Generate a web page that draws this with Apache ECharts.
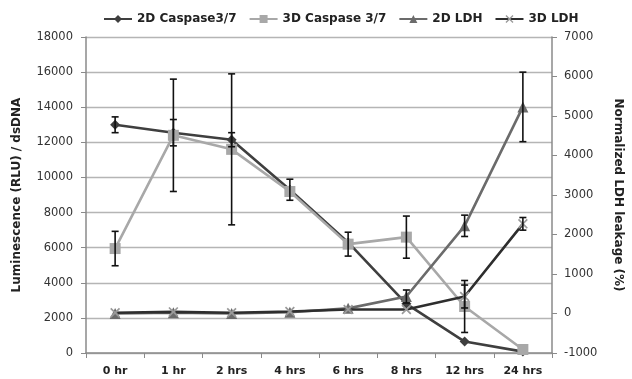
<!DOCTYPE html>
<html><head><meta charset="utf-8">
<script src="https://cdn.jsdelivr.net/npm/echarts@6/dist/echarts.min.js"></script>
<style>html,body{margin:0;padding:0;background:#fff}#c{width:632px;height:379px}</style>
</head><body><div id="c"></div>
<script>
const categories = ['0 hr','1 hr','2 hrs','4 hrs','6 hrs','8 hrs','12 hrs','24 hrs'];
const caspase2D = [13000, 12550, 12150, 9300, 6300, 2800, 650, 80];
const caspase2DErr = [450, 750, 400, 600, 0, 0, 0, 0];
const caspase3D = [5950, 12400, 11600, 9200, 6200, 6600, 2650, 200];
const caspase3DErr = [980, 3200, 4300, 0, 680, 1200, 1480, 0];
const ldh2D = [0, 20, 0, 30, 130, 430, 2220, 5230];
const ldh2DErr = [0, 0, 0, 0, 0, 165, 270, 880];
const ldh3D = [20, 40, 20, 50, 100, 100, 430, 2270];
const ldh3DErr = [0, 0, 0, 0, 0, 0, 290, 160];
const leftTicks = {min: 0, max: 18000, interval: 2000};
const rightTicks = {min: -1000, max: 7000, interval: 1000};

const FONT = "'DejaVu Sans', sans-serif";
const xMark = 'path://M0,1.2L1.2,0L5,3.8L8.8,0L10,1.2L6.2,5L10,8.8L8.8,10L5,6.2L1.2,10L0,8.8L3.8,5Z';

function errSeries(vals, errs, yIdx) {
  const data = [];
  vals.forEach((v, i) => { if (errs[i] > 0) data.push([i, v - errs[i], v + errs[i]]); });
  return {
    type: 'custom', yAxisIndex: yIdx, z: 5, silent: true,
    renderItem: function (params, api) {
      const x = api.value(0);
      const lo = api.coord([x, api.value(1)]);
      const hi = api.coord([x, api.value(2)]);
      const w = 3.5;
      const st = {stroke: '#111', lineWidth: 1.6};
      return {type: 'group', children: [
        {type: 'line', shape: {x1: lo[0], y1: lo[1], x2: hi[0], y2: hi[1]}, style: st},
        {type: 'line', shape: {x1: lo[0]-w, y1: lo[1], x2: lo[0]+w, y2: lo[1]}, style: st},
        {type: 'line', shape: {x1: hi[0]-w, y1: hi[1], x2: hi[0]+w, y2: hi[1]}, style: st}
      ]};
    },
    data: data
  };
}

const chart = echarts.init(document.getElementById('c'), null, {renderer: 'canvas'});
chart.setOption({
  animation: false,
  backgroundColor: '#fff',
  legend: {
    top: 8, left: 98, itemGap: 12, itemWidth: 28, itemHeight: 10,
    textStyle: {fontFamily: FONT, fontSize: 12, fontWeight: 'bold', color: '#222'},
    data: ['2D Caspase3/7', '3D Caspase 3/7', '2D LDH', '3D LDH']
  },
  grid: {left: 86, right: 74, top: 37, bottom: 26},
  xAxis: {
    type: 'category', data: categories, boundaryGap: true,
    axisLine: {lineStyle: {color: '#8a8a8a', width: 1.5}},
    axisTick: {show: true, inside: false, length: 5, lineStyle: {color: '#8a8a8a'}},
    axisLabel: {margin: 13, fontFamily: FONT, fontSize: 11, fontWeight: 'bold', color: '#222'}
  },
  yAxis: [
    {
      type: 'value', min: leftTicks.min, max: leftTicks.max, interval: leftTicks.interval,
      name: 'Luminescence (RLU) / dsDNA', nameLocation: 'middle', nameGap: 63, nameRotate: 90,
      nameTextStyle: {fontFamily: FONT, fontSize: 12, fontWeight: 'bold', color: '#222'},
      axisLine: {show: true, lineStyle: {color: '#8a8a8a', width: 1.5}},
      axisTick: {show: true, length: 5, lineStyle: {color: '#8a8a8a'}},
      axisLabel: {margin: 13, fontFamily: FONT, fontSize: 11.5, color: '#333', formatter: v => String(v)},
      splitLine: {show: true, lineStyle: {color: '#b5b5b5', width: 1.3}}
    },
    {
      type: 'value', position: 'right', min: rightTicks.min, max: rightTicks.max, interval: rightTicks.interval,
      name: 'Normalized LDH leakage (%)', nameLocation: 'middle', nameGap: 60, nameRotate: -90,
      nameTextStyle: {fontFamily: FONT, fontSize: 12, fontWeight: 'bold', color: '#222'},
      axisLine: {show: true, lineStyle: {color: '#8a8a8a', width: 1.5}},
      axisTick: {show: true, length: 5, lineStyle: {color: '#8a8a8a'}},
      axisLabel: {margin: 12, fontFamily: FONT, fontSize: 11.5, color: '#333', formatter: v => String(v)},
      splitLine: {show: false}
    }
  ],
  series: [
    {name: '2D Caspase3/7', type: 'line', yAxisIndex: 0, data: caspase2D, z: 3,
     symbol: 'diamond', symbolSize: 10, color: '#3f3f3f',
     lineStyle: {width: 2.6, color: '#3f3f3f'}, itemStyle: {color: '#3f3f3f'}},
    {name: '3D Caspase 3/7', type: 'line', yAxisIndex: 0, data: caspase3D, z: 3,
     symbol: 'rect', symbolSize: 11, color: '#a8a8a8',
     lineStyle: {width: 2.6, color: '#a8a8a8'}, itemStyle: {color: '#a8a8a8'}},
    {name: '2D LDH', type: 'line', yAxisIndex: 1, data: ldh2D, z: 3,
     symbol: 'triangle', symbolSize: 11, color: '#6b6b6b',
     lineStyle: {width: 2.6, color: '#6b6b6b'}, itemStyle: {color: '#6b6b6b'}},
    {name: '3D LDH', type: 'line', yAxisIndex: 1, data: ldh3D, z: 3,
     symbol: xMark, symbolSize: 10, color: '#2e2e2e',
     lineStyle: {width: 2.6, color: '#2e2e2e'}, itemStyle: {color: '#9a9a9a'}},
    errSeries(caspase2D, caspase2DErr, 0),
    errSeries(caspase3D, caspase3DErr, 0),
    errSeries(ldh2D, ldh2DErr, 1),
    errSeries(ldh3D, ldh3DErr, 1)
  ]
});
</script></body></html>
